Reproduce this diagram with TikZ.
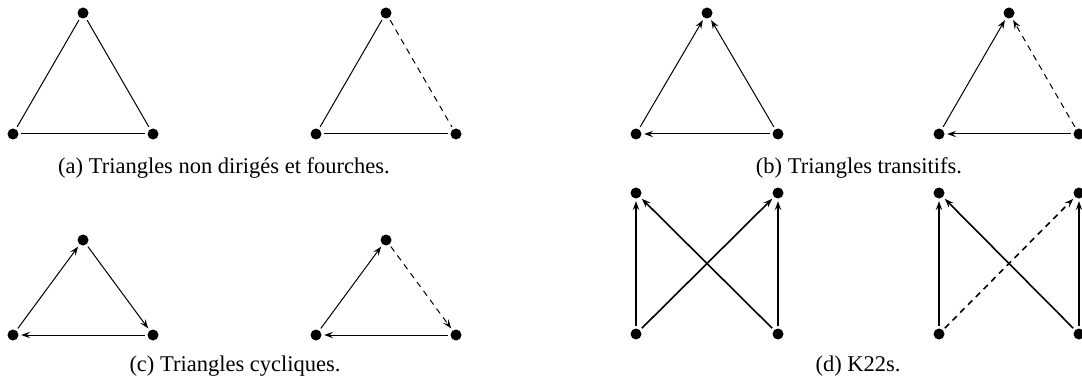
\documentclass[tikz,border=0pt]{standalone}
\usepackage{fontspec}
\setmainfont{Liberation Serif}
\usetikzlibrary{arrows.meta}
\begin{document}
\begin{tikzpicture}[x=1pt,y=-1pt,
  vtx/.style={circle,fill=black,inner sep=0pt,minimum size=11pt},
  edge/.style={line width=1pt,shorten >=2.5pt,shorten <=2.5pt},
  arr/.style={edge,-{Stealth[length=9pt,width=6.5pt,inset=3.5pt]}},
  thk/.style={line width=1.6pt},
  thkv/.style={line width=2.2pt},
  dsh/.style={dash pattern=on 6pt off 5pt},
  captxt/.style={font=\fontsize{22.5}{26}\selectfont,inner sep=0pt}]
\useasboundingbox (0,0) rectangle (1082,385);
% (a)
\node[vtx] (a1t) at (83,13) {};
\node[vtx] (a1l) at (13,134) {};
\node[vtx] (a1r) at (153,134) {};
\draw[edge] (a1l) -- (a1t);
\draw[edge] (a1t) -- (a1r);
\draw[edge] (a1l) -- (a1r);
\node[vtx] (a2t) at (386,13) {};
\node[vtx] (a2l) at (316,134) {};
\node[vtx] (a2r) at (456,134) {};
\draw[edge] (a2l) -- (a2t);
\draw[edge,dsh] (a2t) -- (a2r);
\draw[edge] (a2l) -- (a2r);
\node[captxt] (capa) at (224,168) {(a) Triangles non dirigés et fourches.};
% (b)
\node[vtx] (b1t) at (707,13) {};
\node[vtx] (b1l) at (636,134) {};
\node[vtx] (b1r) at (778,134) {};
\draw[arr] (b1l) -- (b1t);
\draw[arr] (b1r) -- (b1t);
\draw[arr] (b1r) -- (b1l);
\node[vtx] (b2t) at (1009,13) {};
\node[vtx] (b2l) at (939,134) {};
\node[vtx] (b2r) at (1079,134) {};
\draw[arr] (b2l) -- (b2t);
\draw[arr,dsh] (b2r) -- (b2t);
\draw[arr] (b2r) -- (b2l);
\node[captxt] (capb) at (859,168) {(b) Triangles transitifs.};
% (c)
\node[vtx] (c1t) at (83,240) {};
\node[vtx] (c1l) at (13,335) {};
\node[vtx] (c1r) at (153,335) {};
\draw[arr] (c1l) -- (c1t);
\draw[arr] (c1t) -- (c1r);
\draw[arr] (c1r) -- (c1l);
\node[vtx] (c2t) at (386,240) {};
\node[vtx] (c2l) at (316,335) {};
\node[vtx] (c2r) at (456,335) {};
\draw[arr] (c2l) -- (c2t);
\draw[arr,dsh] (c2t) -- (c2r);
\draw[arr] (c2r) -- (c2l);
\node[captxt] (capc) at (235,366) {(c) Triangles cycliques.};
% (d)
\node[vtx] (d1tl) at (636,193) {};
\node[vtx] (d1tr) at (778,193) {};
\node[vtx] (d1bl) at (636,334) {};
\node[vtx] (d1br) at (778,334) {};
\draw[arr,thkv] (d1bl) -- (d1tl);
\draw[arr,thkv] (d1br) -- (d1tr);
\draw[arr,thk] (d1br) -- (d1tl);
\draw[arr,thk] (d1bl) -- (d1tr);
\node[vtx] (d2tl) at (939,193) {};
\node[vtx] (d2tr) at (1079,193) {};
\node[vtx] (d2bl) at (939,334) {};
\node[vtx] (d2br) at (1079,334) {};
\draw[arr,thkv] (d2bl) -- (d2tl);
\draw[arr,thkv] (d2br) -- (d2tr);
\draw[arr,thk] (d2br) -- (d2tl);
\draw[arr,thk,dsh] (d2bl) -- (d2tr);
\node[captxt] (capd) at (858,366) {(d) K22s.};
\end{tikzpicture}
\end{document}
